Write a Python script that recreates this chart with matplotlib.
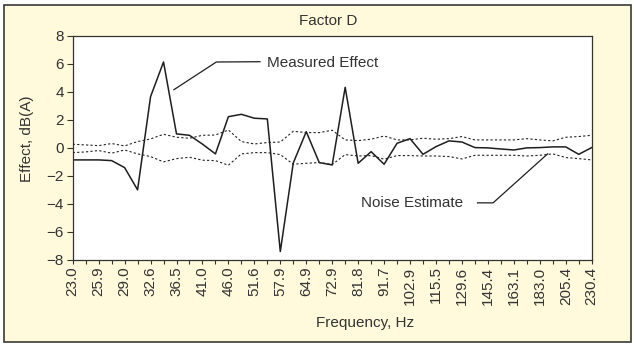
import numpy as np
import matplotlib
matplotlib.use("Agg")
import matplotlib.pyplot as plt
from matplotlib.patches import Rectangle

# Frequency bands (labelled every other band) and effect values in dB(A)
freq_labels = ["23.0", "25.9", "29.0", "32.6", "36.5", "41.0", "46.0", "51.6",
               "57.9", "64.9", "72.9", "81.8", "91.7", "102.9", "115.5",
               "129.6", "145.4", "163.1", "183.0", "205.4", "230.4"]

measured = [-0.88, -0.88, -0.88, -0.93, -1.43, -3.02, 3.64, 6.12, 0.98, 0.88,
            0.25, -0.45, 2.21, 2.38, 2.10, 2.05, -7.43, -1.10, 1.14, -1.07,
            -1.24, 4.31, -1.12, -0.29, -1.19, 0.31, 0.64, -0.48, 0.07, 0.48,
            0.40, 0.00, -0.02, -0.10, -0.17, -0.02, 0.00, 0.05, 0.05, -0.48,
            0.00]

noise_upper = [0.24, 0.19, 0.14, 0.29, 0.12, 0.43, 0.62, 0.95, 0.74, 0.67,
               0.88, 0.90, 1.26, 0.43, 0.26, 0.36, 0.40, 1.17, 1.07, 1.07,
               1.24, 0.55, 0.50, 0.60, 0.83, 0.55, 0.55, 0.67, 0.60, 0.64,
               0.79, 0.55, 0.55, 0.55, 0.55, 0.64, 0.55, 0.48, 0.74, 0.79,
               0.88]

noise_lower = [-0.36, -0.31, -0.21, -0.40, -0.17, -0.45, -0.64, -1.02, -0.79,
               -0.69, -0.90, -0.93, -1.26, -0.45, -0.36, -0.36, -0.50, -1.19,
               -1.12, -1.07, -1.21, -0.50, -0.60, -0.57, -0.83, -0.57, -0.57,
               -0.60, -0.60, -0.64, -0.81, -0.55, -0.55, -0.55, -0.55, -0.60,
               -0.55, -0.45, -0.71, -0.79, -0.88]

plt.rcParams['font.family'] = ['Liberation Sans', 'DejaVu Sans']
txt = '#333333'

W, H = 634, 345
fig = plt.figure(figsize=(W / 100, H / 100), dpi=100)
fig.patch.set_facecolor('white')

# pale yellow panel with dark frame, kept behind the axes
fig.patches.append(Rectangle((3.5 / W, 3.5 / H), (W - 7) / W, (H - 8.5) / H,
                             transform=fig.transFigure, facecolor='#fffadb',
                             edgecolor='#3a3a3a', linewidth=1.2, zorder=-10))

ax = fig.add_axes([72.7 / W, 1 - 259.5 / H, 519 / W, 223.8 / H])
ax.set_facecolor('white')

x = np.arange(len(measured))
ax.plot(x, noise_upper, color='#222222', lw=0.8, linestyle=(0, (2, 2)))
ax.plot(x, noise_lower, color='#222222', lw=0.8, linestyle=(0, (2, 2)))
ax.plot(x, measured, color='#1e1e1e', lw=1.1)

ax.set_xlim(0, len(measured) - 1)
ax.set_ylim(-8, 8)
ax.set_yticks(np.arange(-8, 9, 2))
ax.set_xticks(np.arange(0, len(measured), 2))
ax.set_xticklabels(freq_labels, rotation=90)
ax.set_xticks(np.arange(1, len(measured), 2), minor=True)

ax.tick_params(axis='x', which='both', length=3, width=0.8, colors='#333333',
               labelsize=11, pad=2)
ax.tick_params(axis='y', length=4.5, width=0.8, colors='#333333',
               labelsize=11, pad=2)
for s in ax.spines.values():
    s.set_color('#333333')
    s.set_linewidth(0.9)

# callouts
ax.plot([7.8, 11.07, 14.43], [4.14, 6.12, 6.14], color='#1e1e1e', lw=0.9)
ax.text(14.95, 6.05, "Measured Effect", fontsize=11, color=txt, va='center')
ax.plot([31.2, 32.4, 36.6], [-3.95, -3.95, -0.45], color='#1e1e1e', lw=0.9)
ax.text(22.2, -3.95, "Noise Estimate", fontsize=11, color=txt, va='center')

fig.text(328 / W, 1 - 21 / H, "Factor D", fontsize=11, color=txt,
         ha='center', va='center')
fig.text(365 / W, 1 - 323 / H, "Frequency, Hz", fontsize=11, color=txt,
         ha='center', va='center')
fig.text(27 / W, 1 - 139 / H, "Effect, dB(A)", fontsize=11, color=txt,
         ha='center', va='center', rotation=90)

fig.savefig("out.png", dpi=100)
